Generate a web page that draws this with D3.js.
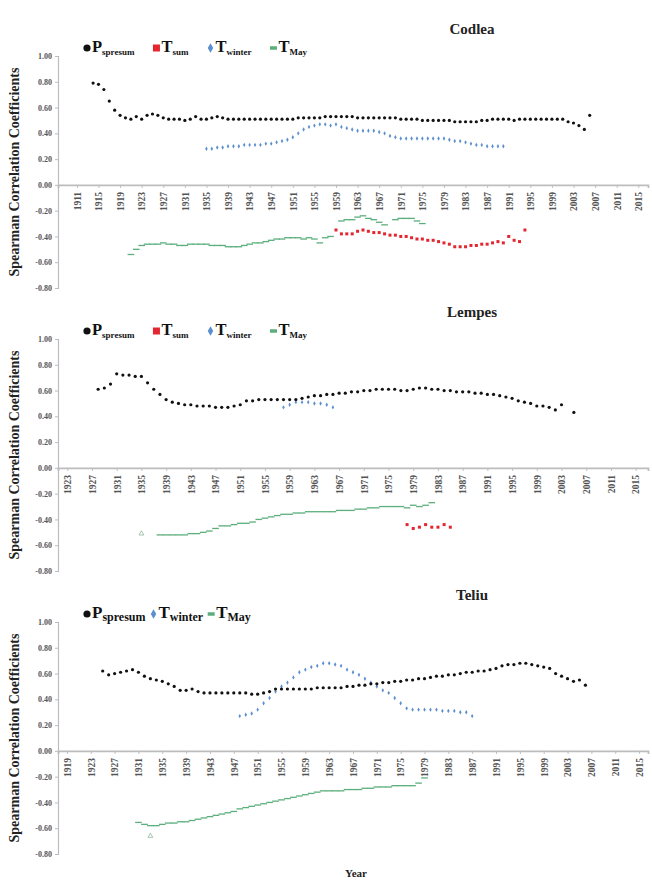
<!DOCTYPE html>
<html>
<head>
<meta charset="utf-8">
<script src="https://cdn.jsdelivr.net/npm/d3@7/dist/d3.min.js"></script>
<style>
  body { margin: 0; background: #fff; }
  text { font-family: "Liberation Serif", "Times New Roman", serif; }
</style>
</head>
<body>
<svg id="chart" width="652" height="887"></svg>
<script>
// ---------- data ----------
var codleaTicks = [1911, 1915, 1919, 1923, 1927, 1931, 1935, 1939, 1943, 1947, 1951, 1955, 1959, 1963,
  1967, 1971, 1975, 1979, 1983, 1987, 1991, 1995, 1999, 2003, 2007, 2011, 2015];
var lempesTicks = [1923, 1927, 1931, 1935, 1939, 1943, 1947, 1951, 1955, 1959, 1963, 1967, 1971, 1975,
  1979, 1983, 1987, 1991, 1995, 1999, 2003, 2007, 2011, 2015];
var teliuTicks = [1919, 1923, 1927, 1931, 1935, 1939, 1943, 1947, 1951, 1955, 1959, 1963, 1967, 1971,
  1975, 1979, 1983, 1987, 1991, 1995, 1999, 2003, 2007, 2011, 2015];
var yTicks = [1.0, 0.8, 0.6, 0.4, 0.2, 0.0, -0.2, -0.4, -0.6, -0.8];

// Codlea
var codleaPStart = 1914;
var codleaP = [0.79, 0.78, 0.74, 0.65, 0.58, 0.54, 0.52, 0.51, 0.53, 0.51,
  0.54, 0.55, 0.54, 0.52, 0.51, 0.51, 0.51, 0.50, 0.51, 0.53,
  0.51, 0.51, 0.52, 0.53, 0.52, 0.51, 0.51, 0.51, 0.51, 0.51,
  0.51, 0.51, 0.51, 0.51, 0.51, 0.51, 0.51, 0.51, 0.52, 0.52,
  0.52, 0.52, 0.52, 0.53, 0.53, 0.53, 0.53, 0.53, 0.53, 0.52,
  0.52, 0.52, 0.52, 0.52, 0.52, 0.52, 0.52, 0.51, 0.51, 0.51,
  0.51, 0.50, 0.50, 0.50, 0.50, 0.50, 0.50, 0.49, 0.49, 0.49,
  0.49, 0.49, 0.50, 0.50, 0.51, 0.51, 0.51, 0.51, 0.50, 0.51,
  0.51, 0.51, 0.51, 0.51, 0.51, 0.51, 0.51, 0.51, 0.49, 0.48,
  0.46, 0.43, 0.54];
var codleaSumStart = 1959;
var codleaSum = [-0.35, -0.38, -0.38, -0.38, -0.36, -0.35, -0.36, -0.37, -0.37, -0.38,
  -0.39, -0.39, -0.40, -0.40, -0.41, -0.42, -0.42, -0.43, -0.43, -0.44,
  -0.45, -0.46, -0.48, -0.48, -0.48, -0.47, -0.47, -0.46, -0.46, -0.45,
  -0.44, -0.45, -0.40, -0.43, -0.44, -0.35];
var codleaWinterStart = 1935;
var codleaWinter = [0.28, 0.28, 0.29, 0.29, 0.30, 0.30, 0.30, 0.31, 0.31, 0.31,
  0.31, 0.32, 0.32, 0.33, 0.34, 0.35, 0.37, 0.40, 0.43, 0.45,
  0.46, 0.47, 0.47, 0.46, 0.47, 0.45, 0.44, 0.43, 0.42, 0.42,
  0.42, 0.42, 0.41, 0.40, 0.38, 0.37, 0.36, 0.36, 0.36, 0.36,
  0.36, 0.36, 0.36, 0.36, 0.36, 0.35, 0.34, 0.34, 0.33, 0.32,
  0.31, 0.31, 0.30, 0.30, 0.30, 0.30];
var codleaMayStart = 1921;
var codleaMay = [-0.54, -0.50, -0.47, -0.46, -0.46, -0.46, -0.45, -0.46, -0.46, -0.47,
  -0.47, -0.46, -0.46, -0.46, -0.46, -0.47, -0.47, -0.47, -0.48, -0.48,
  -0.48, -0.47, -0.46, -0.45, -0.45, -0.44, -0.43, -0.42, -0.42, -0.41,
  -0.41, -0.41, -0.42, -0.41, -0.42, -0.45, -0.41, -0.40, null, -0.28,
  -0.27, -0.27, -0.25, -0.24, -0.26, -0.27, -0.29, -0.31, null, -0.27,
  -0.26, -0.26, -0.26, -0.28, -0.30];

// Lempes
var lempesPStart = 1928;
var lempesP = [0.61, 0.62, 0.65, 0.73, 0.72, 0.72, 0.71, 0.71, 0.66, 0.61,
  0.57, 0.53, 0.51, 0.50, 0.49, 0.49, 0.48, 0.48, 0.48, 0.47,
  0.47, 0.47, 0.48, 0.49, 0.52, 0.52, 0.53, 0.53, 0.53, 0.53,
  0.53, 0.53, 0.53, 0.54, 0.55, 0.56, 0.56, 0.57, 0.57, 0.58,
  0.58, 0.59, 0.59, 0.60, 0.60, 0.61, 0.61, 0.61, 0.61, 0.60,
  0.60, 0.61, 0.62, 0.62, 0.61, 0.61, 0.60, 0.60, 0.59, 0.59,
  0.59, 0.58, 0.58, 0.57, 0.57, 0.56, 0.55, 0.54, 0.52, 0.51,
  0.50, 0.48, 0.48, 0.47, 0.45, 0.49, null, 0.43];
var lempesSumStart = 1978;
var lempesSum = [-0.44, -0.47, -0.46, -0.44, -0.46, -0.46, -0.44, -0.46];
var lempesWinterStart = 1958;
var lempesWinter = [0.47, 0.49, 0.51, 0.51, 0.51, 0.50, 0.50, 0.49, 0.47];
var lempesMayStart = 1938;
var lempesMay = [-0.52, -0.52, -0.52, -0.52, -0.52, -0.51, -0.51, -0.50, -0.49, -0.47,
  -0.45, -0.45, -0.44, -0.43, -0.43, -0.42, -0.40, -0.39, -0.38, -0.37,
  -0.36, -0.36, -0.35, -0.35, -0.34, -0.34, -0.34, -0.34, -0.34, -0.33,
  -0.33, -0.33, -0.32, -0.32, -0.31, -0.31, -0.30, -0.30, -0.30, -0.30,
  -0.31, -0.29, -0.30, -0.29, -0.27];
var lempesMayOutYears = [1935];
var lempesMayOut = [-0.51];

// Teliu
var teliuPStart = 1925;
var teliuP = [0.62, 0.59, 0.60, 0.61, 0.62, 0.63, 0.61, 0.58, 0.56, 0.55,
  0.54, 0.52, 0.50, 0.47, 0.47, 0.48, 0.46, 0.45, 0.45, 0.45,
  0.45, 0.45, 0.45, 0.45, 0.45, 0.44, 0.44, 0.45, 0.46, 0.48,
  0.48, 0.48, 0.48, 0.48, 0.48, 0.48, 0.49, 0.49, 0.49, 0.49,
  0.49, 0.50, 0.50, 0.51, 0.51, 0.52, 0.52, 0.53, 0.53, 0.54,
  0.54, 0.55, 0.55, 0.56, 0.56, 0.57, 0.58, 0.58, 0.59, 0.59,
  0.60, 0.61, 0.61, 0.62, 0.62, 0.63, 0.64, 0.66, 0.67, 0.67,
  0.68, 0.68, 0.67, 0.66, 0.65, 0.64, 0.60, 0.58, 0.56, 0.54,
  0.55, 0.51];
var teliuWinterStart = 1948;
var teliuWinter = [0.27, 0.28, 0.29, 0.32, 0.37, 0.41, 0.46, 0.50, 0.53, 0.57,
  0.61, 0.63, 0.65, 0.66, 0.68, 0.68, 0.67, 0.66, 0.63, 0.61,
  0.59, 0.56, 0.53, 0.50, 0.47, 0.45, 0.41, 0.37, 0.33, 0.32,
  0.32, 0.32, 0.32, 0.32, 0.31, 0.31, 0.31, 0.30, 0.30, 0.27];
var teliuMayStart = 1931;
var teliuMay = [-0.555, -0.57, -0.58, -0.58, -0.57, -0.56, -0.56, -0.55, -0.55, -0.54,
  -0.53, -0.52, -0.51, -0.50, -0.49, -0.48, -0.47, -0.45, -0.44, -0.43,
  -0.42, -0.41, -0.40, -0.39, -0.38, -0.37, -0.36, -0.35, -0.34, -0.33,
  -0.32, -0.31, -0.31, -0.31, -0.31, -0.30, -0.30, -0.30, -0.29, -0.29,
  -0.28, -0.28, -0.28, -0.27, -0.27, -0.27, -0.27, -0.25, -0.21];
var teliuMayOutYears = [1933];
var teliuMayOut = [-0.66];

// ---------- styling ----------
var colP = "#111111", colSum = "#e3262f", colWinter = "#5b8fcf", colMay = "#5caf7c";
var axisCol = "#bdbdbd";

function series(start, values, shape, color) {
  return values.map(function (v, i) { return { year: start + i, value: v, shape: shape, color: color }; })
    .filter(function (d) { return d.value !== null; });
}
function points(years, values, shape, color) {
  return values.map(function (v, i) { return { year: years[i], value: v, shape: shape, color: color }; });
}

var legendFull = [
  { shape: "circle", color: colP, main: "P", sub: "spresum" },
  { shape: "square", color: colSum, main: "T", sub: "sum" },
  { shape: "diamond", color: colWinter, main: "T", sub: "winter" },
  { shape: "dash", color: colMay, main: "T", sub: "May" }
];
var legendTeliu = [legendFull[0], legendFull[2], legendFull[3]];

var panels = [
  { name: "Codlea", top: 56, domain: [1907.5, 2016.8], ticks: codleaTicks, legend: legendFull,
    mainSize: 16.5, subSize: 9, gap: 17,
    data: [].concat(
      series(codleaMayStart, codleaMay, "dash", colMay),
      series(codleaWinterStart, codleaWinter, "diamond", colWinter),
      series(codleaSumStart, codleaSum, "square", colSum),
      series(codleaPStart, codleaP, "circle", colP)) },
  { name: "Lempes", top: 339, domain: [1921.5, 2017], ticks: lempesTicks, legend: legendFull,
    mainSize: 16.5, subSize: 9, gap: 17,
    data: [].concat(
      series(lempesMayStart, lempesMay, "dash", colMay),
      points(lempesMayOutYears, lempesMayOut, "tri", "#8fb59c"),
      series(lempesWinterStart, lempesWinter, "diamond", colWinter),
      series(lempesSumStart, lempesSum, "square", colSum),
      series(lempesPStart, lempesP, "circle", colP)) },
  { name: "Teliu", top: 622, domain: [1917.5, 2016.5], ticks: teliuTicks, legend: legendTeliu,
    mainSize: 17, subSize: 12, gap: 3,
    data: [].concat(
      series(teliuMayStart, teliuMay, "dash", colMay),
      points(teliuMayOutYears, teliuMayOut, "tri", "#8fb59c"),
      series(teliuWinterStart, teliuWinter, "diamond", colWinter),
      series(teliuPStart, teliuP, "circle", colP)) }
];

var svg = d3.select("#chart");
var plotH = 232, x0 = 58, x1 = 648;

function marker(g, shape, cx, cy, color, big) {
  if (shape === "circle") {
    g.append("circle").attr("cx", cx).attr("cy", cy).attr("r", big ? 3.6 : 1.6).attr("fill", color);
  } else if (shape === "square") {
    var s = big ? 7 : 3;
    g.append("rect").attr("x", cx - s / 2).attr("y", cy - s / 2).attr("width", s).attr("height", s).attr("fill", color);
  } else if (shape === "diamond") {
    g.append("path").attr("transform", "translate(" + cx + "," + cy + ")")
      .attr("d", d3.symbol(d3.symbolDiamond, big ? 26 : 5.5)()).attr("fill", color);
  } else if (shape === "dash") {
    var w = big ? 7 : 6.6, h = big ? 3.5 : 1.3;
    g.append("rect").attr("x", cx - w / 2).attr("y", cy - h / 2).attr("width", w).attr("height", h).attr("fill", color);
  } else if (shape === "tri") {
    g.append("path").attr("transform", "translate(" + cx + "," + cy + ")")
      .attr("d", d3.symbol(d3.symbolTriangle, 10)()).attr("fill", "none")
      .attr("stroke", color).attr("stroke-width", 0.8);
  }
}

panels.forEach(function (p) {
  var g = svg.append("g");
  var x = d3.scaleLinear().domain(p.domain).range([x0, x1]);
  var y = d3.scaleLinear().domain([-0.8, 1]).range([p.top + plotH, p.top]);

  // y axis
  var ya = g.append("g").attr("transform", "translate(" + x0 + ",0)")
    .call(d3.axisLeft(y).tickValues(yTicks).tickSize(3).tickPadding(3)
      .tickFormat(function (d) { return d.toFixed(2); }));
  ya.select(".domain").attr("stroke", axisCol).attr("stroke-width", 1.2);
  ya.selectAll(".tick line").attr("stroke", axisCol);
  ya.selectAll(".tick text").attr("font-size", 8).attr("font-weight", "bold").attr("fill", "#555")
    .style("font-family", "Liberation Serif, serif");

  // x axis along zero
  var xa = g.append("g").attr("transform", "translate(0," + y(0) + ")")
    .call(d3.axisBottom(x).tickValues(p.ticks).tickSize(3).tickFormat(d3.format("d")));
  xa.select(".domain").attr("stroke", axisCol).attr("stroke-width", 1.8);
  xa.selectAll(".tick line").attr("stroke", axisCol);
  xa.selectAll(".tick text")
    .attr("transform", "rotate(-90)")
    .attr("text-anchor", "end")
    .attr("x", -7).attr("y", 3.3).attr("dy", null)
    .attr("font-size", 9.5).attr("font-weight", "bold").attr("fill", "#555")
    .style("font-family", "Liberation Serif, serif");

  // marks
  var mg = g.append("g");
  p.data.forEach(function (d) {
    marker(mg, d.shape, x(d.year), y(d.value), d.color, false);
  });

  // title
  g.append("text").attr("x", 472).attr("y", p.top - 22).attr("text-anchor", "middle")
    .attr("font-size", 15).attr("font-weight", "bold").attr("fill", "#222").text(p.name);

  // legend
  var lg = g.append("g"), cx = 87, base = p.top - 4;
  p.legend.forEach(function (it) {
    marker(lg, it.shape, cx, base - 4, it.color, true);
    var t = lg.append("text").attr("x", cx + 5).attr("y", base)
      .attr("font-weight", "bold").attr("fill", "#111");
    t.append("tspan").attr("font-size", p.mainSize).text(it.main);
    t.append("tspan").attr("font-size", p.subSize).attr("dy", 3).text(it.sub);
    cx = cx + 5 + t.node().getComputedTextLength() + p.gap + 5;
  });

  // y axis title
  g.append("text")
    .attr("transform", "translate(19," + (p.top + plotH / 2) + ") rotate(-90)")
    .attr("text-anchor", "middle").attr("font-size", 14).attr("font-weight", "bold").attr("fill", "#222")
    .text("Spearman Correlation Coefficients");
});

svg.append("text").attr("x", 356).attr("y", 877).attr("text-anchor", "middle")
  .attr("font-size", 11).attr("font-weight", "bold").attr("fill", "#222").text("Year");
</script>
</body>
</html>
